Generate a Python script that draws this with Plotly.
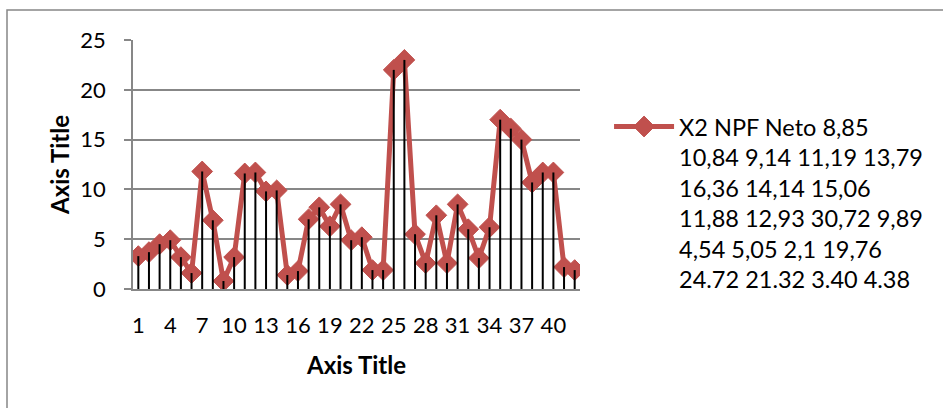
import plotly.graph_objects as go

# Observation index and the plotted series
categories = list(range(1, 43))
values = [3.3, 3.7, 4.5, 4.9, 3.2, 1.6, 11.8, 6.9, 0.8, 3.2,
          11.6, 11.7, 9.8, 9.9, 1.4, 1.8, 7.0, 8.2, 6.3, 8.5,
          4.9, 5.2, 1.9, 1.9, 22.0, 23.0, 5.5, 2.6, 7.4, 2.6,
          8.5, 6.0, 3.1, 6.2, 17.0, 16.1, 15.0, 10.7, 11.7, 11.7,
          2.2, 1.9]
x_tick_values = categories[::3]
x_tick_labels = [str(c) for c in x_tick_values]
y_tick_values = [0, 5, 10, 15, 20, 25]
series_name_lines = [
    "X2 NPF Neto 8,85",
    "10,84 9,14 11,19 13,79",
    "16,36 14,14 15,06",
    "11,88 12,93 30,72 9,89",
    "4,54 5,05 2,1 19,76",
    "24.72 21.32 3.40 4.38",
]
x_title = "Axis Title"
y_title = "Axis Title"

FONT = "Lato, 'Open Sans', sans-serif"
RED = "#C0504D"
GRID = "#878787"

# vertical drop lines from each point down to zero
drop_x, drop_y = [], []
for c, v in zip(categories, values):
    drop_x += [c, c, None]
    drop_y += [0, v, None]

fig = go.Figure()
fig.add_trace(go.Scatter(
    x=categories, y=values, mode="lines+markers",
    name="<br>".join(series_name_lines),
    line=dict(color=RED, width=5),
    marker=dict(symbol="diamond", size=16, color=RED,
                line=dict(color=RED, width=1)),
))
fig.add_trace(go.Scatter(
    x=drop_x, y=drop_y, mode="lines", showlegend=False,
    line=dict(color="black", width=2), hoverinfo="skip",
))

fig.update_layout(
    width=943, height=408,
    margin=dict(l=133, r=363, t=40, b=119),
    paper_bgcolor="white", plot_bgcolor="white",
    font=dict(family=FONT, color="black", size=20),
    legend=dict(x=1.065, xanchor="left", y=0.74, yanchor="top",
                font=dict(size=23.5), valign="top", itemwidth=60,
                tracegroupgap=0),
    shapes=[dict(type="rect", xref="paper", yref="paper",
                 x0=(7 - 133) / 447, x1=2.0,
                 y0=-2.0, y1=(289 - 10) / 249,
                 line=dict(color=GRID, width=1.5), fillcolor="rgba(0,0,0,0)",
                 layer="below")],
)
fig.update_xaxes(
    range=[0.5, 42.5], tickmode="array",
    tickvals=x_tick_values, ticktext=x_tick_labels,
    showgrid=False, zeroline=False,
    showline=True, linecolor=GRID, linewidth=1.5, ticks="",
    ticklabelstandoff=16, tickfont=dict(size=22),
    title=dict(text="<b>" + x_title + "</b>", font=dict(size=24), standoff=20),
)
fig.update_yaxes(
    range=[0, 25], tickmode="array", tickvals=y_tick_values,
    showgrid=True, gridcolor=GRID, gridwidth=1.5, zeroline=False,
    showline=True, linecolor=GRID, linewidth=1.5,
    ticks="outside", ticklen=7, tickcolor=GRID, tickwidth=1.5,
    ticklabelstandoff=14, tickfont=dict(size=22),
    title=dict(text="<b>" + y_title + "</b>", font=dict(size=24), standoff=4),
)

fig.write_html("out.html")
